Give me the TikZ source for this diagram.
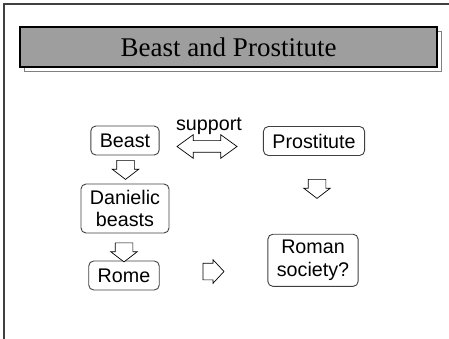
\documentclass[tikz,border=0pt]{standalone}
\usepackage{fontspec}
\setmainfont{Liberation Serif}
\setsansfont{Liberation Sans}
\usetikzlibrary{shapes.arrows}
\definecolor{titlegray}{RGB}{158,158,158}
\definecolor{framegray}{RGB}{64,64,64}

\begin{document}
\begin{tikzpicture}[x=1pt,y=-1pt]
\tikzstyle{box}=[draw=framegray,line width=0.9pt,rounded corners=5pt,align=center,inner xsep=9pt,inner ysep=6pt,minimum height=29pt,font=\sffamily\fontsize{19.7}{22.5}\selectfont]
\tikzstyle{blockarrow}=[draw=black,fill=white,line width=0.7pt,inner xsep=0pt]
\tikzstyle{downarrow}=[blockarrow,single arrow,rotate=-90,inner ysep=8.5pt,minimum height=19pt,single arrow head extend=4.5pt,single arrow tip angle=105]
\useasboundingbox (0,0) rectangle (449,339);
% slide edges
\draw[framegray,line width=1.2pt] (449,4) -- (4,4) -- (4,339);
% title bar with its shadow
\node[draw=gray,fill=white,line width=0.8pt,minimum width=417pt,minimum height=40pt] (shadow) at (232.5,51) {};
\node[draw=black,fill=titlegray,line width=1.2pt,minimum width=417pt,minimum height=40pt,font=\fontsize{27}{30}\selectfont] (title) at (228.5,47) {Beast and Prostitute};
\foreach \name/\point/\txt in {
	beast/{125,140.5}/Beast,
	prostitute/{314,141}/Prostitute,
	danielic/{125,208.5}/{Danielic\\beasts},
	rome/{124,275.5}/Rome,
	society/{313,260.3}/{Roman\\society?}}
	\node[box] (\name) at (\point) {\txt};
\node[font=\sffamily\fontsize{19.7}{22.5}\selectfont] (support) at (209,126) {support};
\node[blockarrow,double arrow,inner ysep=5.5pt,minimum height=60pt,double arrow head extend=6pt,double arrow tip angle=72] (both) at (207,146.5) {};
\foreach \name/\point in {
	down1/{125.5,166.5},
	down2/{124,249},
	down3/{317,185.5}}
	\node[downarrow] (\name) at (\point) {};
\node[blockarrow,single arrow,inner ysep=8pt,minimum height=21pt,single arrow head extend=3.5pt,single arrow tip angle=94] (across) at (209.6,271.5) {};
\end{tikzpicture}
\end{document}
